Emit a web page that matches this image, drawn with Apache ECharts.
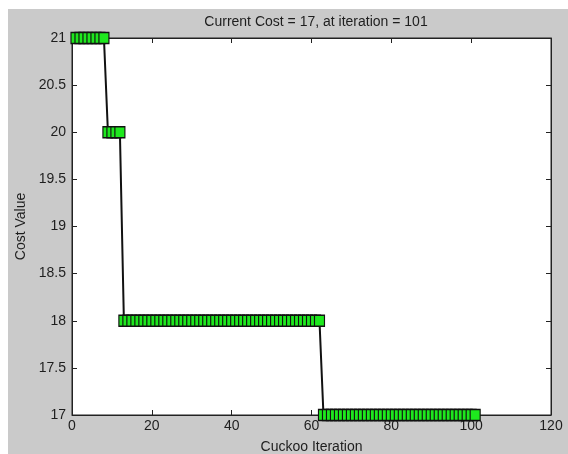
<!DOCTYPE html>
<html>
<head>
<meta charset="utf-8">
<script src="https://cdn.jsdelivr.net/npm/echarts@6/dist/echarts.min.js"></script>
<style>
html,body{margin:0;padding:0;background:#fff;}
#bg{position:absolute;left:8px;top:9px;width:560px;height:445px;background:#cacaca;}
#chart{position:absolute;left:0;top:0;width:568px;height:454px;}
</style>
</head>
<body>
<div id="bg"></div>
<div id="chart"></div>
<script>
// Cost level per segment of iterations
const segStart = [1, 9, 13, 63];
const segEnd   = [8, 12, 62, 101];
const segCost  = [21, 20, 18, 17];
const titleText = 'Current Cost = 17, at iteration = 101';
const xName = 'Cuckoo Iteration';
const yName = 'Cost Value';

const data = [];
for (let s = 0; s < segCost.length; s++) {
  for (let it = segStart[s]; it <= segEnd[s]; it++) data.push([it, segCost[s]]);
}

const font = 'Liberation Sans, Arial, sans-serif';
const txt = '#1e1e1e';
const chart = echarts.init(document.getElementById('chart'), null, {renderer: 'canvas'});
const tickCommon = {show: true, inside: true, length: 5, lineStyle: {color: '#222', width: 1}};
chart.setOption({
  animation: false,
  backgroundColor: 'transparent',
  title: {text: titleText, left: 311, top: 10, textAlign: 'center',
    textStyle: {fontFamily: font, fontSize: 14, fontWeight: 'normal', color: txt}},
  grid: {left: 72, right: 17, top: 38, bottom: 39, show: true, containLabel: false, outerBoundsMode: 'none',
    backgroundColor: '#fff', borderColor: '#222', borderWidth: 1},
  xAxis: [
    {type: 'value', min: 0, max: 120, interval: 20, position: 'bottom',
     name: xName, nameLocation: 'middle', nameGap: 25,
     nameTextStyle: {fontFamily: font, fontSize: 14, color: txt},
     axisLine: {show: true, onZero: false, lineStyle: {color: '#222'}},
     axisTick: tickCommon, splitLine: {show: false},
     axisLabel: {fontFamily: font, fontSize: 14, color: txt, margin: 4}},
    {type: 'value', min: 0, max: 120, interval: 20, position: 'top',
     axisLine: {show: true, onZero: false, lineStyle: {color: '#222'}},
     axisTick: tickCommon, splitLine: {show: false}, axisLabel: {show: false}}
  ],
  yAxis: [
    {type: 'value', min: 17, max: 21, interval: 0.5, position: 'left',
     name: yName, nameLocation: 'middle', nameGap: 43, nameRotate: 90,
     nameTextStyle: {fontFamily: font, fontSize: 14, color: txt},
     axisLine: {show: true, onZero: false, lineStyle: {color: '#222'}},
     axisTick: tickCommon, splitLine: {show: false},
     axisLabel: {fontFamily: font, fontSize: 14, color: txt, margin: 6}},
    {type: 'value', min: 17, max: 21, interval: 0.5, position: 'right',
     axisLine: {show: true, onZero: false, lineStyle: {color: '#222'}},
     axisTick: tickCommon, splitLine: {show: false}, axisLabel: {show: false}}
  ],
  series: [{
    type: 'line', data: data, xAxisIndex: 0, yAxisIndex: 0,
    symbol: 'rect', symbolSize: [10, 11], showAllSymbol: true,
    itemStyle: {color: '#1ee81e', borderColor: '#111', borderWidth: 1.2},
    lineStyle: {color: '#111', width: 2},
    emphasis: {disabled: true}
  }]
});
</script>
</body>
</html>
